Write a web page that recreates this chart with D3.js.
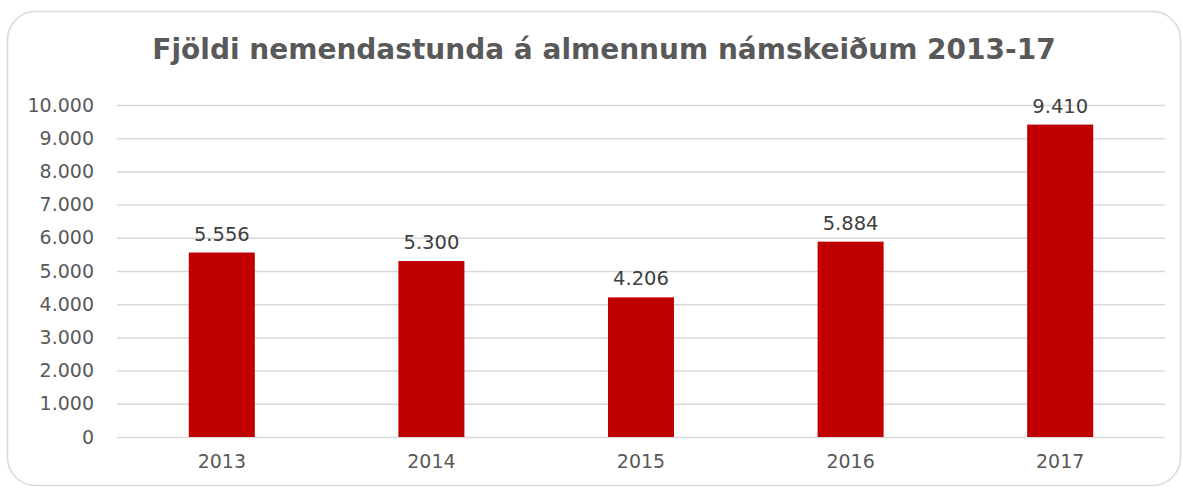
<!DOCTYPE html>
<html lang="is">
<head>
    <meta charset="UTF-8">
    <title>Fjöldi nemendastunda</title>
    <style>
        body { margin: 0; padding: 0; background: #ffffff; overflow: hidden; }
        svg { display: block; font-family: 'DejaVu Sans', sans-serif; }
    </style>
    <script src="https://d3js.org/d3.v7.min.js"></script>
</head>
<body>
    <div id="chart"></div>
    <script>
        // Data
        const years = ["2013", "2014", "2015", "2016", "2017"];
        const hours = [5556, 5300, 4206, 5884, 9410];
        const yTicks = [0, 1000, 2000, 3000, 4000, 5000, 6000, 7000, 8000, 9000, 10000];
        const title = "Fjöldi nemendastunda á almennum námskeiðum 2013-17";

        const width = 1183, height = 488;
        const margin = { top: 105, right: 18, bottom: 51, left: 117 };

        const svg = d3.select("#chart").append("svg")
            .attr("width", width)
            .attr("height", height);

        // chart frame
        svg.append("rect")
            .attr("x", 7.5).attr("y", 11.5)
            .attr("width", 1173).attr("height", 474)
            .attr("rx", 28).attr("ry", 28)
            .attr("fill", "#fff")
            .attr("stroke", "#d9d9d9")
            .attr("stroke-width", 1.5);

        svg.append("text")
            .attr("x", 604).attr("y", 59)
            .attr("text-anchor", "middle")
            .style("font-size", "28px")
            .style("font-weight", "bold")
            .style("fill", "#595959")
            .text(title);

        const x = d3.scaleBand()
            .domain(years)
            .range([margin.left, width - margin.right])
            .paddingInner(0.685)
            .paddingOuter(0.3425);

        const y = d3.scaleLinear()
            .domain([0, 10000])
            .range([height - margin.bottom, margin.top]);

        const fmt = v => d3.format(",")(v).replace(/,/g, ".");

        // gridlines + y labels
        const yAxis = svg.append("g")
            .attr("transform", `translate(${margin.left},0)`)
            .call(d3.axisLeft(y).tickValues(yTicks).tickFormat(fmt)
                .tickSize(-(width - margin.left - margin.right)).tickPadding(23));
        yAxis.select(".domain").remove();
        yAxis.selectAll(".tick line").attr("stroke", "#d9d9d9").attr("stroke-width", 1.5);
        yAxis.selectAll(".tick text")
            .style("font-size", "19px")
            .style("font-family", "'DejaVu Sans', sans-serif")
            .attr("fill", "#595959");

        // x labels
        const xAxis = svg.append("g")
            .attr("transform", `translate(0,${height - margin.bottom})`)
            .call(d3.axisBottom(x).tickSize(0).tickPadding(18));
        xAxis.select(".domain").remove();
        xAxis.selectAll(".tick text")
            .style("font-size", "19px")
            .style("font-family", "'DejaVu Sans', sans-serif")
            .attr("fill", "#595959");

        // bars
        svg.append("g").selectAll("rect")
            .data(hours)
            .join("rect")
            .attr("x", (d, i) => x(years[i]))
            .attr("y", d => y(d))
            .attr("width", x.bandwidth())
            .attr("height", d => y(0) - y(d))
            .attr("fill", "#c00000");

        // data labels
        svg.append("g").selectAll("text")
            .data(hours)
            .join("text")
            .attr("x", (d, i) => x(years[i]) + x.bandwidth() / 2)
            .attr("y", d => y(d) - 12)
            .attr("text-anchor", "middle")
            .style("font-size", "19.5px")
            .style("fill", "#404040")
            .text(fmt);
    </script>
</body>
</html>
